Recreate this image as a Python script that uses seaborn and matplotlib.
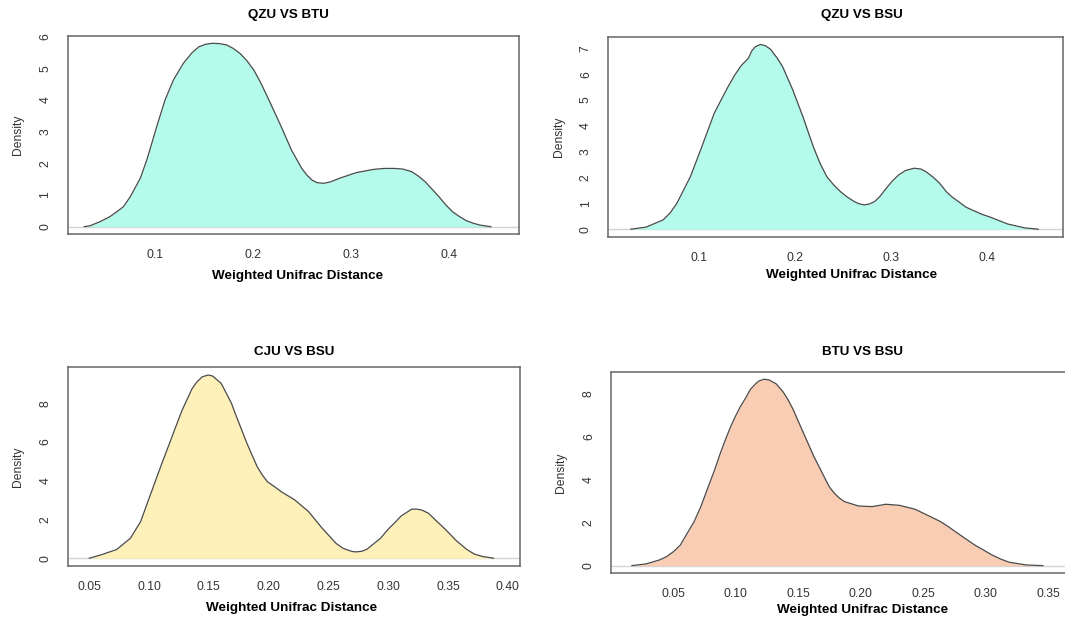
import numpy as np
import pandas as pd
import seaborn as sns
import matplotlib
matplotlib.use("Agg")
import matplotlib.pyplot as plt

# density curves (x = weighted unifrac distance, y = density)
qzu_btu_x = [0.0276, 0.0337, 0.0439, 0.0541, 0.0608, 0.0677, 0.0748, 0.0850, 0.0915, 0.0957,
             0.1017, 0.1102, 0.1187, 0.1289, 0.1377, 0.1447, 0.1517, 0.1587, 0.1657, 0.1728,
             0.1797, 0.1867, 0.1937, 0.2007, 0.2077, 0.2147, 0.2287, 0.2392, 0.2497, 0.2549,
             0.2602, 0.2654, 0.2724, 0.2794, 0.2882, 0.3056, 0.3231, 0.3337, 0.3441, 0.3529,
             0.3616, 0.3686, 0.3756, 0.3896, 0.3966, 0.4036, 0.4106, 0.4176, 0.4246, 0.4316,
             0.4428]
qzu_btu_y = [0.00, 0.03, 0.16, 0.32, 0.47, 0.63, 0.95, 1.53, 2.10, 2.53,
             3.16, 4.00, 4.63, 5.16, 5.49, 5.68, 5.76, 5.79, 5.78, 5.74,
             5.63, 5.47, 5.24, 4.95, 4.55, 4.10, 3.16, 2.42, 1.84, 1.63,
             1.47, 1.39, 1.37, 1.42, 1.53, 1.71, 1.81, 1.84, 1.84, 1.82,
             1.74, 1.60, 1.42, 0.95, 0.69, 0.47, 0.32, 0.19, 0.11, 0.05,
             0.00]

qzu_bsu_x = [0.0285, 0.0445, 0.0623, 0.0694, 0.0766, 0.0907, 0.1014, 0.1156, 0.1227, 0.1299,
             0.1370, 0.1441, 0.1511, 0.1547, 0.1583, 0.1636, 0.1690, 0.1743, 0.1814, 0.1868,
             0.1921, 0.1974, 0.2027, 0.2080, 0.2134, 0.2188, 0.2258, 0.2329, 0.2401, 0.2472,
             0.2543, 0.2614, 0.2668, 0.2721, 0.2774, 0.2827, 0.2880, 0.2934, 0.3005, 0.3076,
             0.3147, 0.3237, 0.3307, 0.3360, 0.3431, 0.3503, 0.3574, 0.3629, 0.3780, 0.3942,
             0.4036, 0.4214, 0.4392, 0.4533]
qzu_bsu_y = [0.00, 0.08, 0.36, 0.62, 1.00, 2.03, 3.07, 4.49, 5.00, 5.51,
             5.97, 6.35, 6.61, 6.90, 7.06, 7.15, 7.10, 6.96, 6.61, 6.29,
             5.84, 5.39, 4.87, 4.35, 3.77, 3.19, 2.55, 2.03, 1.71, 1.45,
             1.24, 1.07, 0.98, 0.94, 0.98, 1.07, 1.26, 1.52, 1.84, 2.10,
             2.27, 2.36, 2.33, 2.23, 2.03, 1.78, 1.45, 1.26, 0.85, 0.58,
             0.46, 0.20, 0.05, 0.00]

cju_bsu_x = [0.0498, 0.0600, 0.0728, 0.0843, 0.0929, 0.1015, 0.1101, 0.1187, 0.1273, 0.1359,
             0.1402, 0.1445, 0.1494, 0.1531, 0.1603, 0.1646, 0.1689, 0.1731, 0.1775, 0.1818,
             0.1861, 0.1904, 0.1947, 0.1990, 0.2048, 0.2105, 0.2219, 0.2334, 0.2448, 0.2564,
             0.2621, 0.2678, 0.2707, 0.2735, 0.2779, 0.2821, 0.2936, 0.2994, 0.3051, 0.3108,
             0.3166, 0.3195, 0.3237, 0.3281, 0.3338, 0.3395, 0.3452, 0.3517, 0.3568, 0.3657,
             0.3720, 0.3783, 0.3883]
cju_bsu_y = [0.00, 0.18, 0.45, 1.03, 1.89, 3.35, 4.80, 6.20, 7.60, 8.75,
             9.12, 9.37, 9.46, 9.41, 9.03, 8.52, 8.00, 7.31, 6.62, 5.94,
             5.33, 4.73, 4.30, 3.95, 3.70, 3.44, 3.01, 2.41, 1.55, 0.77,
             0.52, 0.39, 0.34, 0.33, 0.36, 0.46, 1.03, 1.46, 1.81, 2.18,
             2.41, 2.53, 2.54, 2.49, 2.32, 1.98, 1.65, 1.25, 0.92, 0.46,
             0.22, 0.10, 0.00]

btu_bsu_x = [0.0170, 0.0285, 0.0395, 0.0449, 0.0504, 0.0559, 0.0614, 0.0669, 0.0723, 0.0778,
             0.0833, 0.0874, 0.0915, 0.0956, 0.0998, 0.1039, 0.1080, 0.1120, 0.1162, 0.1189,
             0.1230, 0.1271, 0.1326, 0.1381, 0.1422, 0.1463, 0.1504, 0.1545, 0.1587, 0.1628,
             0.1669, 0.1709, 0.1750, 0.1792, 0.1833, 0.1874, 0.1929, 0.1983, 0.2093, 0.2175,
             0.2203, 0.2312, 0.2436, 0.2504, 0.2572, 0.2641, 0.2710, 0.2778, 0.2847, 0.2915,
             0.2984, 0.3052, 0.3120, 0.3189, 0.3326, 0.3462]
btu_bsu_y = [0.00, 0.08, 0.27, 0.42, 0.65, 0.96, 1.51, 2.05, 2.75, 3.61,
             4.46, 5.16, 5.80, 6.40, 6.94, 7.41, 7.80, 8.22, 8.48, 8.61,
             8.69, 8.65, 8.47, 8.10, 7.72, 7.26, 6.71, 6.17, 5.62, 5.08,
             4.61, 4.15, 3.68, 3.37, 3.14, 2.98, 2.88, 2.78, 2.75, 2.83,
             2.86, 2.81, 2.63, 2.44, 2.25, 2.05, 1.79, 1.51, 1.23, 0.96,
             0.73, 0.50, 0.31, 0.16, 0.03, 0.00]

titles = ["QZU VS BTU", "QZU VS BSU", "CJU VS BSU", "BTU VS BSU"]
fill_colors = ["#b4fbec", "#b4fbec", "#fdf0b9", "#f9cdb3"]
xticks_list = [[0.1, 0.2, 0.3, 0.4],
               [0.1, 0.2, 0.3, 0.4],
               [0.05, 0.10, 0.15, 0.20, 0.25, 0.30, 0.35, 0.40],
               [0.05, 0.10, 0.15, 0.20, 0.25, 0.30, 0.35]]
xtick_fmt = ["{:.1f}", "{:.1f}", "{:.2f}", "{:.2f}"]
yticks_list = [[0, 1, 2, 3, 4, 5, 6],
               [0, 1, 2, 3, 4, 5, 6, 7],
               [0, 2, 4, 6, 8],
               [0, 2, 4, 6, 8]]

curves = [(qzu_btu_x, qzu_btu_y), (qzu_bsu_x, qzu_bsu_y),
          (cju_bsu_x, cju_bsu_y), (btu_bsu_x, btu_bsu_y)]

sns.set_theme(style="white")
plt.rcParams["font.family"] = ["Liberation Sans", "DejaVu Sans"]

W, H = 1065, 628
fig = plt.figure(figsize=(W / 100, H / 100), dpi=100)

# axes boxes in pixels: left, top, right, bottom
boxes = [(67.7, 35.7, 518.7, 234.0),
         (608.0, 36.7, 1063.0, 236.7),
         (67.7, 366.7, 520.0, 566.0),
         (611.0, 372.3, 1070.0, 572.7)]
xlims = [(0.0109, 0.471), (0.0049, 0.4789), (0.0319, 0.4103), (0.0004, 0.3677)]
ylims = [(-0.23, 6.03), (-0.29, 7.45), (-0.40, 9.89), (-0.33, 9.01)]
title_gap = [20.7, 21.7, 15.0, 20.6]
title_xc = [0.49, 0.558, 0.5, 0.547]
xlabel_gap = [42.0, 38.3, 42.3, 37.3]
xlabel_xc = [0.51, 0.536, 0.495, 0.547]

edge = "#666666"
for i, (xs, ys) in enumerate(curves):
    l, t, r, b = boxes[i]
    ax = fig.add_axes([l / W, 1 - b / H, (r - l) / W, (b - t) / H])
    df = pd.DataFrame({"dist": xs, "dens": ys})
    ax.axhline(0, color="#d4d4d4", lw=1.0, zorder=0)
    ax.fill_between(df["dist"], df["dens"], 0, color=fill_colors[i], lw=0, zorder=1)
    sns.lineplot(data=df, x="dist", y="dens", ax=ax, color="#4a4a4a", lw=0.9,
                 sort=False, zorder=2)
    ax.set_xlim(*xlims[i])
    ax.set_ylim(*ylims[i])
    ax.set_xticks(xticks_list[i])
    ax.set_xticklabels([xtick_fmt[i].format(v) for v in xticks_list[i]])
    ax.set_yticks(yticks_list[i])
    ax.set_yticklabels([str(v) for v in yticks_list[i]], rotation=90, va="center")
    ax.tick_params(axis="both", direction="out", length=4.8, width=0.8, color=edge,
                   labelsize=8.7, labelcolor="#333333")
    ax.tick_params(axis="x", pad=6.0)
    ax.tick_params(axis="y", pad=6.8)
    for s in ax.spines.values():
        s.set_color(edge)
        s.set_linewidth(1.1)
    hpx = b - t
    ax.set_title(titles[i], fontsize=9.6, fontweight="bold", color="black",
                 x=title_xc[i], y=1 + title_gap[i] / hpx, va="center", pad=0)
    ax.set_xlabel("Weighted Unifrac Distance", fontsize=9.7, fontweight="bold", color="black")
    ax.xaxis.set_label_coords(xlabel_xc[i], -xlabel_gap[i] / hpx)
    ax.xaxis.label.set_va("center")
    ax.set_ylabel("Density", fontsize=8.7, color="#333333")
    ax.yaxis.set_label_coords(-49.5 / (r - l), 0.5)
    ax.yaxis.label.set_va("center")

fig.savefig("out.png", dpi=100)
